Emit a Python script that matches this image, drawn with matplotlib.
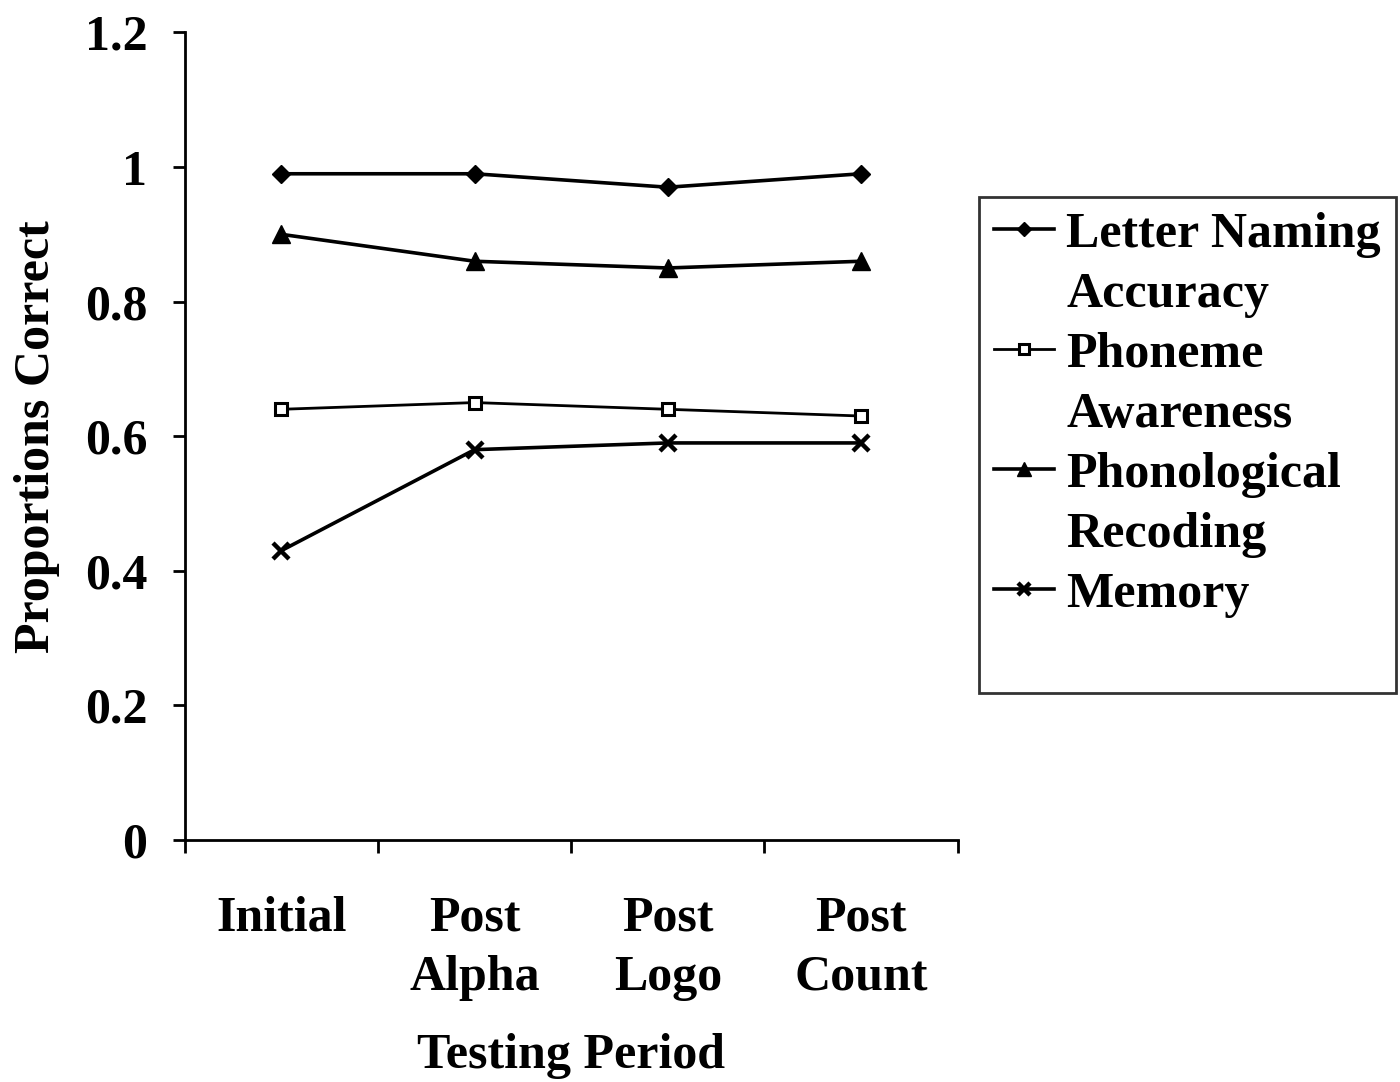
import matplotlib
matplotlib.use("Agg")
import matplotlib.pyplot as plt
from matplotlib.lines import Line2D

# DATA -----------------------------------------------
periods = ["Initial", "Post\nAlpha", "Post\nLogo", "Post\nCount"]
letter_naming = [0.99, 0.99, 0.97, 0.99]
phoneme_awareness = [0.64, 0.65, 0.64, 0.63]
phonological_recoding = [0.90, 0.86, 0.85, 0.86]
memory = [0.43, 0.58, 0.59, 0.59]
y_ticks = [0, 0.2, 0.4, 0.6, 0.8, 1, 1.2]
y_tick_labels = ["0", "0.2", "0.4", "0.6", "0.8", "1", "1.2"]

plt.rcParams["font.family"] = ["Liberation Serif", "DejaVu Serif"]
plt.rcParams["font.weight"] = "bold"
fs = 36

fig = plt.figure(figsize=(14, 10.82), dpi=100)
ax = fig.add_axes([0.132, 0.2237, 0.552, 0.7463])

x = list(range(len(periods)))
l1, = ax.plot(x, letter_naming, color="black", lw=2.6, marker="D", ms=9.5)
l2, = ax.plot(x, phoneme_awareness, color="black", lw=2.0, marker="s", ms=9,
              mfc="white", mec="black", mew=2.2)
l3, = ax.plot(x, phonological_recoding, color="black", lw=2.6, marker="^", ms=13)
l4, = ax.plot(x, memory, color="black", lw=2.6, marker="x", ms=11, mew=3.2)

ax.set_xlim(-0.5, len(periods) - 0.5)
ax.set_ylim(0, 1.2)
ax.spines["top"].set_visible(False)
ax.spines["right"].set_visible(False)
ax.spines["left"].set_linewidth(2)
ax.spines["bottom"].set_linewidth(2)

# ticks at category boundaries, labels at category centres
ax.set_xticks([i - 0.5 for i in range(len(periods) + 1)])
ax.set_xticklabels([])
ax.set_xticks(x, minor=True)
ax.set_xticklabels(periods, minor=True, fontsize=fs, fontweight="bold", va="top",
                   linespacing=1.38)
ax.tick_params(axis="x", which="major", direction="out", length=9, width=2)
ax.tick_params(axis="x", which="minor", length=0, pad=40)

ax.set_yticks(y_ticks)
ax.set_yticklabels(y_tick_labels, fontsize=fs, fontweight="bold")
ax.tick_params(axis="y", direction="out", length=9, width=2, pad=18)

ax.set_xlabel("Testing Period", fontsize=fs, fontweight="bold", labelpad=23)
ax.set_ylabel("Proportions Correct", fontsize=fs, fontweight="bold", labelpad=18)

# legend: label continuation lines get blank handles so the marker sits on the first line
blank = Line2D([], [], color="none")
handles = [l1, blank, l2, blank, l3, blank, l4, blank]
labels = ["Letter Naming", "Accuracy", "Phoneme", "Awareness",
          "Phonological", "Recoding", "Memory", ""]
leg = fig.legend(handles, labels, loc="upper left", bbox_to_anchor=(0.699, 0.818),
                 fontsize=fs, frameon=True, fancybox=False, handlelength=1.2,
                 handletextpad=0.25, labelspacing=0.28, borderpad=0.3,
                 borderaxespad=0, markerscale=0.8)
leg.get_frame().set_edgecolor("black")
leg.get_frame().set_linewidth(2)
for t in leg.get_texts():
    t.set_fontweight("bold")

fig.savefig("out.png", dpi=100)
